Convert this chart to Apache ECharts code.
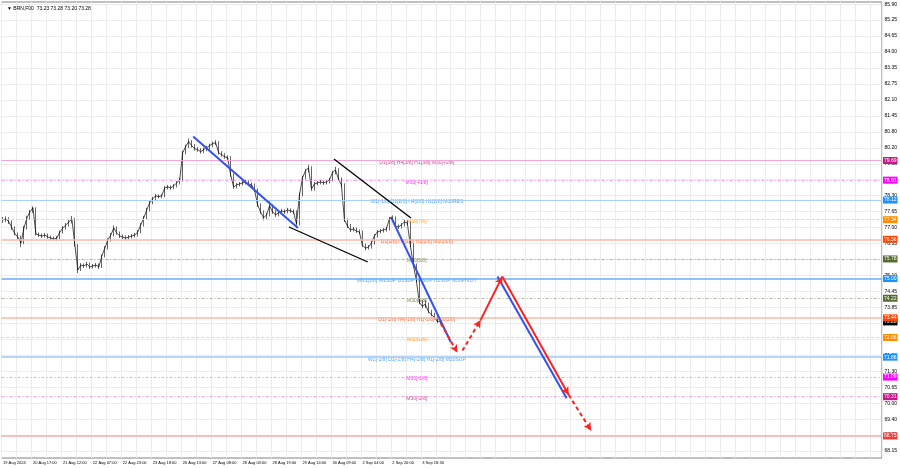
<!DOCTYPE html>
<html><head><meta charset="utf-8">
<script src="https://cdn.jsdelivr.net/npm/echarts@6/dist/echarts.min.js"></script>
<style>html,body{margin:0;padding:0;background:#fff}#c{width:900px;height:468px}</style>
</head><body><div id="c"></div>
<script>
// ---------------- data ----------------
const symbolTitle = "BRN,F00";
const lastOHLC = ["73.23", "73.28", "73.20", "73.28"];
const timeLabels = ["19 Aug 2024","20 Aug 17:00","21 Aug 12:00","22 Aug 07:00","22 Aug 23:00","23 Aug 18:00","26 Aug 13:00","27 Aug 08:00","28 Aug 03:00","28 Aug 19:00","29 Aug 14:00","30 Aug 09:00","2 Sep 04:00","2 Sep 20:00","3 Sep 18:30"];
const priceTicks = ["68.15","68.75","69.40","70.00","70.65","71.30","71.90","72.55","73.20","73.85","74.45","75.10","75.70","76.35","77.00","77.65","78.30","78.90","79.55","80.20","80.80","81.45","82.10","82.75","83.35","84.00","84.65","85.25","85.90"];

const opens = [
77.29,77.33,77.37,77.25,77.01,76.77,76.65,76.41,77.01,77.41,
77.65,77.81,76.77,76.73,76.69,76.73,76.65,76.61,76.57,76.61,
76.85,77.01,77.13,77.25,77.37,76.33,75.34,75.54,75.50,75.58,
75.46,75.50,75.54,75.46,75.90,76.21,76.53,76.73,77.01,76.81,
76.69,76.65,76.61,76.65,76.69,76.73,76.85,77.13,77.41,77.73,
78.01,78.17,78.29,78.25,78.29,78.60,78.64,78.60,78.68,78.80,
78.92,80.00,80.24,80.44,80.28,80.16,80.12,80.04,80.12,80.20,
80.28,80.36,80.40,80.00,79.92,79.84,79.80,79.12,78.64,78.72,
78.76,78.80,78.84,78.76,78.72,78.52,77.93,77.65,77.41,77.53,
77.89,77.65,77.53,77.61,77.69,77.65,77.73,77.69,77.65,77.17,
78.33,79.00,79.28,79.40,78.56,78.76,78.80,78.84,78.80,78.84,
78.92,79.20,79.32,78.96,78.72,77.33,77.09,76.93,76.97,76.89,
76.85,76.33,76.21,76.25,76.41,76.69,76.85,76.89,76.93,76.97,
77.37,77.41,77.09,77.05,77.13,77.25,77.21,76.33,75.54,74.94,
74.06,73.90,73.98,73.70,73.58,73.46,73.31];
const closes = [
77.33,77.37,77.25,77.01,76.77,76.65,76.41,77.01,77.41,77.65,
77.81,76.77,76.73,76.69,76.73,76.65,76.61,76.57,76.61,76.85,
77.01,77.13,77.25,77.37,76.33,75.34,75.54,75.50,75.58,75.46,
75.50,75.54,75.46,75.90,76.21,76.53,76.73,77.01,76.81,76.69,
76.65,76.61,76.65,76.69,76.73,76.85,77.13,77.41,77.73,78.01,
78.17,78.29,78.25,78.29,78.60,78.64,78.60,78.68,78.80,78.92,
80.00,80.24,80.44,80.28,80.16,80.12,80.04,80.12,80.20,80.28,
80.36,80.40,80.00,79.92,79.84,79.80,79.12,78.64,78.72,78.76,
78.80,78.84,78.76,78.72,78.52,77.93,77.65,77.41,77.53,77.89,
77.65,77.53,77.61,77.69,77.65,77.73,77.69,77.65,77.17,78.33,
79.00,79.28,79.40,78.56,78.76,78.80,78.84,78.80,78.84,78.92,
79.20,79.32,78.96,78.72,77.33,77.09,76.93,76.97,76.89,76.85,
76.33,76.21,76.25,76.41,76.69,76.85,76.89,76.93,76.97,77.37,
77.41,77.09,77.05,77.13,77.25,77.21,76.33,75.54,74.94,74.06,
73.90,73.98,73.70,73.58,73.46,73.31,73.28];
const lows = [
77.21,77.25,77.17,76.93,76.71,76.57,76.25,76.37,76.95,77.33,
77.61,76.71,76.65,76.61,76.63,76.59,76.53,76.51,76.51,76.57,
76.79,76.95,77.07,77.19,76.27,75.22,75.30,75.42,75.44,75.38,
75.40,75.44,75.38,75.42,75.84,76.15,76.47,76.67,76.75,76.61,
76.57,76.53,76.55,76.59,76.63,76.67,76.79,77.07,77.35,77.67,
77.95,78.11,78.19,78.19,78.23,78.54,78.52,78.54,78.62,78.74,
78.86,79.94,80.18,80.20,80.08,80.04,79.96,79.98,80.06,80.14,
80.22,80.30,79.92,79.84,79.76,79.72,79.04,78.56,78.58,78.66,
78.70,78.74,78.68,78.64,78.44,77.85,77.57,77.31,77.35,77.47,
77.57,77.45,77.47,77.55,77.57,77.59,77.61,77.57,77.01,77.11,
78.27,78.94,79.22,78.48,78.50,78.70,78.74,78.72,78.74,78.78,
78.86,79.14,78.88,78.64,77.25,77.01,76.85,76.87,76.81,76.77,
76.25,76.13,76.15,76.19,76.35,76.63,76.79,76.83,76.87,76.91,
77.31,77.01,76.97,76.99,77.07,77.13,76.25,75.46,74.86,73.98,
73.82,73.84,73.62,73.50,73.38,73.23,73.20];
const highs = [
77.45,77.47,77.43,77.31,77.07,76.83,76.71,77.09,77.49,77.73,
77.87,77.83,76.83,76.79,76.81,76.79,76.71,76.67,76.69,76.91,
77.09,77.21,77.33,77.49,77.41,76.37,75.62,75.60,75.66,75.64,
75.58,75.62,75.60,75.96,76.29,76.61,76.81,77.11,77.07,76.87,
76.75,76.71,76.73,76.77,76.81,76.93,77.21,77.49,77.81,78.09,
78.25,78.37,78.35,78.35,78.68,78.72,78.70,78.76,78.88,79.00,
80.08,80.32,80.56,80.50,80.34,80.22,80.18,80.20,80.28,80.36,
80.44,80.50,80.46,80.06,79.98,79.90,79.86,79.18,78.80,78.84,
78.88,78.92,78.90,78.82,78.78,78.58,77.99,77.71,77.61,78.07,
77.95,77.71,77.69,77.77,77.75,77.81,77.79,77.75,77.71,78.41,
79.08,79.36,79.52,79.46,78.84,78.88,78.92,78.90,78.92,79.00,
79.28,79.44,79.38,79.02,78.78,77.39,77.17,77.05,77.03,76.95,
76.91,76.39,76.33,76.49,76.77,76.93,76.97,77.01,77.05,77.45,
77.51,77.47,77.15,77.21,77.33,77.31,77.27,76.39,75.60,75.00,
74.14,74.16,74.04,73.76,73.64,73.52,73.37];

const currentPrice = 73.28;
const levelPrices = [79.69, 78.91, 78.12, 77.34, 76.56, 75.78, 75.00, 74.22, 73.44, 72.66, 71.88, 71.09, 70.31, 68.75];
const levelTexts = [
  "D1[3/8] H4[3/8] H1[3/8] M30[+2/8]", "M30[+1/8]",
  "W1[-1/8] D1[2/8] H4[2/8] H1[2/8] M30RES", "M30[7/8]",
  "D1[1/8] H4[1/8] H1[1/8] M30[6/8]", "M30[5/8]",
  "MN1[3/8] W1SUP D1SUP H4SUP H1SUP M30PIVOT", "M30[3/8]",
  "D1[-1/8] H4[-1/8] H1[-1/8] M30[2/8]", "M30[1/8]",
  "W1[-1/8] D1[-2/8] H4[-2/8] H1[-2/8] M30SUP", "M30[-1/8]",
  "M30[-2/8]", ""];

// trend / projection lines: [slotFrom, priceFrom, slotTo, priceTo]
const blueTrend1   = [64.0, 80.64, 99.0, 77.01];
const blackLower   = [96.0, 77.05, 122.3, 75.66];
const blackUpper   = [111.0, 79.75, 136.7, 77.41];
const blueTrend2   = [130.0, 77.45, 150.0, 72.48];
const redDash1     = [146.7, 73.22, 152.2, 72.06];
const redDash2     = [153.9, 72.14, 160.0, 73.36];
const redUp        = [160.0, 73.36, 167.2, 75.08];
const redDown      = [167.2, 75.08, 189.4, 70.38];
const blueParallel = [165.6, 75.08, 188.7, 70.25];
const redDash3     = [189.4, 70.38, 196.9, 68.96];

// ---------------- layout / style ----------------
const totalSlots = 294;
const textSlot = 138.67;
const FONT = "'Liberation Sans', Arial, sans-serif";
const LEVEL_STYLE = [
  {line:'#f2a6d8', type:'solid', w:1, box:'#c8178a', txt:'#c8178a'},
  {line:'#f59cf5', type:[3,2,1,2], w:1, box:'#ff00ff', txt:'#ff00ff'},
  {line:'#a8cff6', type:'solid', w:1, box:'#1e90ff', txt:'#1e90ff'},
  {line:'#fccf9e', type:[3,2], w:1, box:'#ff8c00', txt:'#ff8c00'},
  {line:'#fbb8a6', type:'solid', w:1.6, box:'#ff4500', txt:'#ff4500'},
  {line:'#b4b4a0', type:[3,2,1,2], w:1, box:'#556b2f', txt:'#556b2f'},
  {line:'#6aaef8', type:'solid', w:1.5, box:'#1e90ff', txt:'#1e90ff'},
  {line:'#b4b4a0', type:[3,2,1,2], w:1, box:'#556b2f', txt:'#556b2f'},
  {line:'#fbb8a6', type:'solid', w:1.6, box:'#ff4500', txt:'#ff4500'},
  {line:'#fccf9e', type:[3,2], w:1, box:'#ff8c00', txt:'#ff8c00'},
  {line:'#a0c9f6', type:'solid', w:1.6, box:'#1e90ff', txt:'#1e90ff'},
  {line:'#f59cf5', type:[3,2,1,2], w:1, box:'#ff00ff', txt:'#ff00ff'},
  {line:'#f0a0d8', type:[3,2,1,2], w:1, box:'#c71585', txt:'#c71585'},
  {line:'#f9aaaa', type:'solid', w:1.5, box:'#f03c3c', txt:'#f03c3c'}
];
const BLUE = '#3350f2', RED = '#ff2020';
const TRENDS = [
  {d: blueTrend1, c: BLUE, w: 2, t: 'solid', arrow: false},
  {d: blackLower, c: '#000', w: 1.3, t: 'solid', arrow: false},
  {d: blackUpper, c: '#000', w: 1.3, t: 'solid', arrow: false},
  {d: blueTrend2, c: BLUE, w: 2, t: 'solid', arrow: false},
  {d: blueParallel, c: BLUE, w: 2, t: 'solid', arrow: false},
  {d: redDash1, c: RED, w: 2, t: [4,3], arrow: true},
  {d: redDash2, c: RED, w: 2, t: [4,3], arrow: true},
  {d: redUp, c: RED, w: 2, t: 'solid', arrow: true},
  {d: redDown, c: RED, w: 2, t: 'solid', arrow: true},
  {d: redDash3, c: RED, w: 2, t: [4,3], arrow: true}
];

const chart = echarts.init(document.getElementById('c'), null, {renderer: 'canvas'});
const slots = Array.from({length: totalSlots}, (_, i) => String(i));
const candles = closes.map((c, i) => [opens[i], c, lows[i], highs[i]]);

const boxLabel = (bg) => ({
  show: true, position: 'end', distance: 1,
  formatter: (p) => Number(p.value).toFixed(2),
  fontSize: 5, fontFamily: FONT, color: '#fff',
  backgroundColor: bg, padding: [1, 1, 0, 1], lineHeight: 6
});
const levelLines = [{yAxis: currentPrice, lineStyle: {color: 'rgba(0,0,0,0)', width: 1}, label: boxLabel('#000')}]
  .concat(levelPrices.map((p, i) => ({
    yAxis: p,
    lineStyle: {color: LEVEL_STYLE[i].line, type: LEVEL_STYLE[i].type, width: LEVEL_STYLE[i].w},
    label: boxLabel(LEVEL_STYLE[i].box)
  })));

const trendLines = TRENDS.map(t => [
  {coord: [t.d[0], t.d[1]], symbol: 'none', lineStyle: {color: t.c, width: t.w, type: t.t}},
  {coord: [t.d[2], t.d[3]], symbol: t.arrow ? 'arrow' : 'none', symbolSize: [6, 8],
   lineStyle: {color: t.c, width: t.w, type: t.t}, itemStyle: {color: t.c}}
]);

const option = {
  animation: false,
  backgroundColor: '#fff',
  textStyle: {fontFamily: FONT},
  title: {
    text: '\u25BC ' + symbolTitle + '  ' + lastOHLC.join(' '),
    left: 2, top: 1,
    textStyle: {fontSize: 5, fontWeight: 'normal', color: '#000', fontFamily: FONT}
  },
  grid: [
    {left: 0, right: 18, top: 2, bottom: 10, show: true, borderColor: '#808080', borderWidth: 1, backgroundColor: 'transparent'},
    {left: 0, right: 18, top: 4.13, bottom: 16.92, show: false}
  ],
  xAxis: [
    {type: 'category', gridIndex: 0, data: slots, boundaryGap: true,
     axisLine: {show: false}, axisTick: {show: false},
     axisLabel: {interval: 9, formatter: (v, idx) => timeLabels[idx / 10] || '',
                 fontSize: 4, color: '#000', align: 'left', margin: 3, fontFamily: FONT},
     splitLine: {show: true, interval: 4, lineStyle: {color: '#ececec', width: 1}}},
    {type: 'value', gridIndex: 0, min: 0, max: totalSlots, show: false},
    {type: 'value', gridIndex: 1, min: 0, max: 1, show: false}
  ],
  yAxis: [
    {type: 'value', gridIndex: 0, min: 67.875, max: 85.985, show: false},
    {type: 'value', gridIndex: 1, position: 'right', min: 0, max: 28, interval: 1,
     axisLine: {show: false}, axisTick: {show: false},
     splitLine: {show: true, lineStyle: {color: '#ececec', width: 1}},
     axisLabel: {formatter: (v) => priceTicks[v] || '', fontSize: 5, color: '#000', margin: 3, fontFamily: FONT}}
  ],
  series: [
    {type: 'line', name: 'levels', xAxisIndex: 1, yAxisIndex: 0, data: [], z: 1, silent: true,
     markLine: {silent: true, symbol: 'none', animation: false, data: levelLines}},
    {type: 'scatter', name: 'levelText', xAxisIndex: 1, yAxisIndex: 0, z: 2, silent: true,
     symbolSize: 1, itemStyle: {color: 'transparent'},
     data: levelPrices.map((p, i) => ({value: [textSlot, p], name: levelTexts[i],
       label: {color: LEVEL_STYLE[i].txt}})),
     label: {show: true, position: 'inside', offset: [0, 2], formatter: (p) => p.name,
             fontSize: 5, fontFamily: FONT}},
    {type: 'candlestick', name: 'price', xAxisIndex: 0, yAxisIndex: 0, z: 3, data: candles,
     barWidth: 0.8,
     itemStyle: {color: '#000', color0: '#000', borderColor: '#000', borderColor0: '#000', borderWidth: 0.6}},
    {type: 'line', name: 'closeTrace', xAxisIndex: 0, yAxisIndex: 0, z: 3, data: closes,
     showSymbol: false, symbol: 'none', lineStyle: {color: '#000', width: 0.7}},
    {type: 'line', name: 'trends', xAxisIndex: 1, yAxisIndex: 0, data: [], z: 4, silent: true,
     markLine: {silent: true, animation: false, label: {show: false}, data: trendLines}}
  ]
};
chart.setOption(option);
</script></body></html>
